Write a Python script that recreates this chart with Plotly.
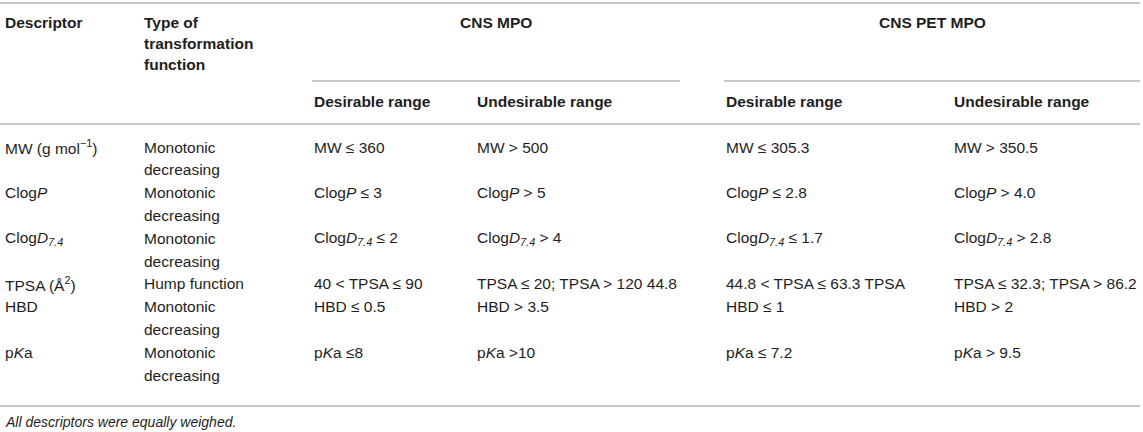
import plotly.graph_objects as go

# ---------------- data ----------------
col_headers = ["Descriptor", "Type of<br>transformation<br>function"]
group_headers = ["CNS MPO", "CNS PET MPO"]
sub_headers = ["Desirable range", "Undesirable range", "Desirable range", "Undesirable range"]

descriptors = [
    "MW (g mol<sup>−1</sup>)",
    "Clog<i>P</i>",
    "Clog<i>D</i><sub><i>7.4</i></sub>",
    "TPSA (Å<sup>2</sup>)",
    "HBD",
    "p<i>K</i>a",
]
transform_types = [
    "Monotonic<br>decreasing",
    "Monotonic<br>decreasing",
    "Monotonic<br>decreasing",
    "Hump function",
    "Monotonic<br>decreasing",
    "Monotonic<br>decreasing",
]
cns_desirable = [
    "MW ≤ 360",
    "Clog<i>P</i> ≤ 3",
    "Clog<i>D</i><sub><i>7.4</i></sub> ≤ 2",
    "40 < TPSA ≤ 90",
    "HBD ≤ 0.5",
    "p<i>K</i>a ≤8",
]
cns_undesirable = [
    "MW > 500",
    "Clog<i>P</i> > 5",
    "Clog<i>D</i><sub><i>7.4</i></sub> > 4",
    "TPSA ≤ 20; TPSA > 120 44.8",
    "HBD > 3.5",
    "p<i>K</i>a >10",
]
pet_desirable = [
    "MW ≤ 305.3",
    "Clog<i>P</i> ≤ 2.8",
    "Clog<i>D</i><sub><i>7.4</i></sub> ≤ 1.7",
    "44.8 < TPSA ≤ 63.3 TPSA",
    "HBD ≤ 1",
    "p<i>K</i>a ≤ 7.2",
]
pet_undesirable = [
    "MW > 350.5",
    "Clog<i>P</i> > 4.0",
    "Clog<i>D</i><sub><i>7.4</i></sub> > 2.8",
    "TPSA ≤ 32.3; TPSA > 86.2",
    "HBD > 2",
    "p<i>K</i>a > 9.5",
]
footnote = "<i>All descriptors were equally weighed.</i>"

# ---------------- layout constants ----------------
W, H = 1143, 432
FONT = "Liberation Sans, Arial, Helvetica, sans-serif"
FS = 15.5
TXT = "#1e1e1e"
RULE = "#b4b4b4"
col_x = [3, 142, 312, 475, 724, 952]
LINE_H = 22.8
HEAD_LINE_H = 21
HEAD_Y = 22
SUB_RULE_Y = 81
SUB_HEAD_Y = 101
TOP_RULE_Y = 3
HEAD_RULE_Y = 124
BODY_Y0 = 147
BOTTOM_RULE_Y = 406
FOOT_Y = 422
RIGHT = 1140

fig = go.Figure()
annotations = []
shapes = []


def add_text(x, y, text, bold=False, size=FS, xanchor="left"):
    for i, line in enumerate(text.split("<br>")):
        t = f"<b>{line}</b>" if bold else line
        annotations.append(dict(
            x=x, y=y + i * (HEAD_LINE_H if bold else LINE_H), xref="x", yref="y",
            text=t, showarrow=False, xanchor=xanchor, yanchor="middle",
            align="left", font=dict(family=FONT, size=size, color=TXT),
        ))


def add_rule(x0, x1, y):
    shapes.append(dict(type="line", xref="x", yref="y", x0=x0, x1=x1, y0=y, y1=y,
                       line=dict(color=RULE, width=1.5)))


# header
add_text(col_x[0], HEAD_Y, col_headers[0], bold=True)
add_text(col_x[1], HEAD_Y, col_headers[1], bold=True)
grp_spans = [(col_x[2], 680), (col_x[4], RIGHT)]
for (x0, x1), g in zip(grp_spans, group_headers):
    add_text((x0 + x1) / 2, HEAD_Y, g, bold=True, xanchor="center")
    add_rule(x0, x1, SUB_RULE_Y)
for x, s in zip(col_x[2:], sub_headers):
    add_text(x, SUB_HEAD_Y, s, bold=True)

add_rule(0, RIGHT, TOP_RULE_Y)
add_rule(0, RIGHT, HEAD_RULE_Y)
add_rule(0, RIGHT, BOTTOM_RULE_Y)

# body
columns = [descriptors, transform_types, cns_desirable, cns_undesirable, pet_desirable, pet_undesirable]
y = BODY_Y0
for r in range(len(descriptors)):
    n_lines = max(c[r].count("<br>") + 1 for c in columns)
    for x, c in zip(col_x, columns):
        add_text(x, y, c[r])
    y += n_lines * LINE_H

add_text(col_x[0], FOOT_Y, footnote, size=14)

fig.update_layout(
    width=W, height=H, margin=dict(l=0, r=0, t=0, b=0),
    paper_bgcolor="white", plot_bgcolor="white",
    xaxis=dict(range=[0, W], visible=False, fixedrange=True),
    yaxis=dict(range=[H, 0], visible=False, fixedrange=True),
    annotations=annotations, shapes=shapes, showlegend=False,
)
fig.write_html(
    "out.html",
    config={"displayModeBar": False, "staticPlot": True},
    post_script="document.body.style.margin='0';document.body.style.overflow='hidden';",
)
